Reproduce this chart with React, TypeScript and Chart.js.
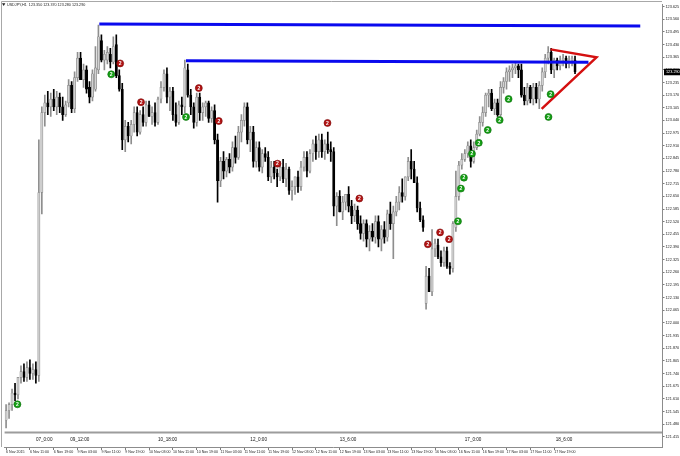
import React, { useEffect, useRef } from 'react';
import { Chart, registerables } from 'chart.js';

Chart.register(...registerables);

const FONT = "'Liberation Sans', Arial, sans-serif";

// ---- OHLC data (USDJPY, H1), bar index 0 = 6 Nov 2015 03:00 ----
const opens = [
  121.50, 121.55, 121.58, 121.64, 121.63, 121.72, 121.75, 121.72, 121.77, 121.74,
  121.76, 121.73, 122.67, 123.08, 123.13, 123.11, 123.15, 123.11, 123.16, 123.11,
  123.07, 123.13, 123.22, 123.10, 123.26, 123.36, 123.25, 123.30, 123.21, 123.16,
  123.20, 123.30, 123.45, 123.35, 123.35, 123.38, 123.34, 123.43, 123.27, 123.20,
  122.94, 123.01, 122.96, 123.02, 123.08, 122.98, 123.07, 123.03, 123.12, 123.06,
  123.08, 123.03, 123.15, 123.21, 123.28, 123.16, 123.19, 123.07, 123.03, 123.12,
  123.11, 123.30, 123.17, 123.11, 123.03, 123.16, 123.08, 123.11, 123.13, 123.05,
  123.09, 122.94, 122.73, 122.83, 122.78, 122.84, 122.80, 122.90, 122.85, 122.98,
  123.04, 123.11, 122.94, 122.98, 122.83, 122.90, 122.80, 122.87, 122.85, 122.75,
  122.80, 122.77, 122.75, 122.80, 122.74, 122.79, 122.68, 122.70, 122.75, 122.70,
  122.80, 122.85, 122.78, 122.87, 122.92, 122.88, 122.94, 122.88, 122.92, 122.89,
  122.88, 122.60, 122.65, 122.57, 122.62, 122.66, 122.60, 122.55, 122.58, 122.51,
  122.46, 122.51, 122.43, 122.47, 122.44, 122.52, 122.43, 122.48, 122.44, 122.56,
  122.51, 122.57, 122.62, 122.67, 122.65, 122.75, 122.83, 122.79, 122.72, 122.59,
  122.53, 122.10, 122.24, 122.16, 122.38, 122.40, 122.34, 122.31, 122.37, 122.29,
  122.28, 122.49, 122.65, 122.81, 122.84, 122.87, 122.91, 122.83, 122.90, 122.97,
  123.03, 123.08, 123.17, 123.18, 123.10, 123.13, 123.07, 123.21, 123.24, 123.29,
  123.30, 123.31, 123.32, 123.30, 123.17, 123.14, 123.21, 123.15, 123.21, 123.15,
  123.22, 123.29, 123.36, 123.39, 123.30, 123.35, 123.32, 123.35, 123.36, 123.33,
  123.35, 123.35,
];
const highs = [
  121.58, 121.59, 121.66, 121.69, 121.72, 121.78, 121.79, 121.80, 121.81, 121.79,
  121.80, 122.94, 123.11, 123.17, 123.19, 123.18, 123.20, 123.19, 123.18, 123.16,
  123.14, 123.25, 123.24, 123.29, 123.39, 123.39, 123.33, 123.32, 123.24, 123.30,
  123.42, 123.53, 123.48, 123.40, 123.42, 123.41, 123.47, 123.48, 123.30, 123.23,
  123.04, 123.03, 123.04, 123.11, 123.11, 123.09, 123.11, 123.14, 123.14, 123.11,
  123.13, 123.16, 123.24, 123.30, 123.31, 123.21, 123.21, 123.13, 123.14, 123.16,
  123.35, 123.33, 123.20, 123.13, 123.18, 123.18, 123.13, 123.14, 123.14, 123.11,
  123.12, 122.97, 122.85, 122.88, 122.85, 122.87, 122.93, 122.96, 123.01, 123.07,
  123.13, 123.13, 123.01, 123.01, 122.93, 122.93, 122.89, 122.90, 122.88, 122.83,
  122.83, 122.79, 122.83, 122.84, 122.82, 122.80, 122.73, 122.75, 122.78, 122.83,
  122.88, 122.88, 122.89, 122.94, 122.96, 122.97, 122.97, 122.94, 122.98, 122.93,
  122.90, 122.67, 122.68, 122.65, 122.66, 122.70, 122.63, 122.61, 122.60, 122.55,
  122.53, 122.53, 122.50, 122.51, 122.55, 122.55, 122.50, 122.52, 122.58, 122.62,
  122.60, 122.65, 122.70, 122.74, 122.75, 122.85, 122.89, 122.83, 122.75, 122.62,
  122.55, 122.29, 122.28, 122.48, 122.43, 122.43, 122.37, 122.39, 122.39, 122.31,
  122.52, 122.78, 122.83, 122.87, 122.89, 122.93, 122.94, 122.93, 122.99, 123.06,
  123.11, 123.18, 123.20, 123.20, 123.15, 123.15, 123.24, 123.26, 123.31, 123.32,
  123.33, 123.34, 123.33, 123.33, 123.21, 123.23, 123.22, 123.23, 123.23, 123.24,
  123.31, 123.38, 123.42, 123.41, 123.36, 123.36, 123.37, 123.38, 123.37, 123.37,
  123.37, 123.37,
];
const lows = [
  121.46, 121.51, 121.55, 121.60, 121.61, 121.69, 121.70, 121.70, 121.71, 121.71,
  121.69, 121.70, 122.56, 123.01, 123.07, 123.06, 123.09, 123.07, 123.08, 123.04,
  123.06, 123.11, 123.08, 123.08, 123.24, 123.25, 123.21, 123.18, 123.13, 123.14,
  123.19, 123.28, 123.34, 123.30, 123.33, 123.31, 123.33, 123.26, 123.19, 122.89,
  122.88, 122.93, 122.92, 122.98, 122.96, 122.97, 123.01, 123.01, 123.06, 123.02,
  123.01, 123.02, 123.13, 123.19, 123.13, 123.09, 123.04, 123.01, 123.02, 123.07,
  123.08, 123.16, 123.07, 123.00, 123.01, 123.04, 123.04, 123.06, 123.03, 123.03,
  122.92, 122.62, 122.70, 122.74, 122.75, 122.77, 122.78, 122.82, 122.84, 122.93,
  123.01, 122.92, 122.88, 122.80, 122.80, 122.78, 122.77, 122.83, 122.73, 122.72,
  122.74, 122.70, 122.73, 122.72, 122.70, 122.66, 122.63, 122.66, 122.67, 122.68,
  122.78, 122.75, 122.77, 122.83, 122.84, 122.85, 122.85, 122.84, 122.87, 122.83,
  122.55, 122.50, 122.57, 122.53, 122.58, 122.57, 122.51, 122.52, 122.48, 122.43,
  122.42, 122.39, 122.37, 122.42, 122.41, 122.39, 122.37, 122.41, 122.42, 122.48,
  122.33, 122.55, 122.58, 122.62, 122.63, 122.73, 122.74, 122.72, 122.57, 122.52,
  122.47, 122.07, 122.16, 122.14, 122.34, 122.33, 122.29, 122.29, 122.28, 122.25,
  122.26, 122.47, 122.63, 122.79, 122.83, 122.85, 122.80, 122.82, 122.89, 122.96,
  123.01, 123.06, 123.11, 123.09, 123.07, 123.06, 123.06, 123.18, 123.20, 123.24,
  123.26, 123.28, 123.26, 123.16, 123.12, 123.12, 123.13, 123.12, 123.13, 123.10,
  123.19, 123.26, 123.33, 123.28, 123.26, 123.30, 123.30, 123.32, 123.31, 123.31,
  123.32, 123.28,
];
const closes = [
  121.55, 121.58, 121.64, 121.63, 121.72, 121.75, 121.72, 121.77, 121.74, 121.76,
  121.73, 122.67, 123.08, 123.13, 123.11, 123.15, 123.11, 123.16, 123.11, 123.07,
  123.12, 123.22, 123.10, 123.26, 123.36, 123.25, 123.30, 123.20, 123.16, 123.28,
  123.31, 123.47, 123.35, 123.38, 123.39, 123.34, 123.42, 123.27, 123.20, 122.94,
  123.01, 122.96, 123.02, 123.08, 122.98, 123.07, 123.03, 123.12, 123.06, 123.08,
  123.03, 123.15, 123.21, 123.28, 123.16, 123.19, 123.07, 123.03, 123.12, 123.11,
  123.31, 123.17, 123.11, 123.03, 123.16, 123.08, 123.11, 123.13, 123.05, 123.09,
  122.94, 122.73, 122.83, 122.78, 122.84, 122.80, 122.90, 122.85, 122.98, 123.04,
  123.11, 122.94, 122.98, 122.83, 122.90, 122.80, 122.87, 122.85, 122.75, 122.80,
  122.77, 122.75, 122.80, 122.74, 122.79, 122.68, 122.70, 122.75, 122.70, 122.80,
  122.85, 122.78, 122.87, 122.92, 122.88, 122.94, 122.88, 122.92, 122.89, 122.88,
  122.60, 122.65, 122.57, 122.62, 122.66, 122.60, 122.55, 122.58, 122.51, 122.46,
  122.51, 122.43, 122.47, 122.44, 122.52, 122.43, 122.48, 122.44, 122.56, 122.51,
  122.57, 122.62, 122.67, 122.65, 122.75, 122.83, 122.79, 122.72, 122.59, 122.53,
  122.49, 122.24, 122.16, 122.38, 122.41, 122.34, 122.31, 122.37, 122.29, 122.28,
  122.51, 122.65, 122.81, 122.84, 122.87, 122.91, 122.83, 122.90, 122.97, 123.03,
  123.08, 123.17, 123.18, 123.10, 123.13, 123.07, 123.21, 123.24, 123.29, 123.30,
  123.31, 123.32, 123.30, 123.17, 123.14, 123.21, 123.15, 123.21, 123.15, 123.22,
  123.29, 123.36, 123.39, 123.30, 123.35, 123.32, 123.35, 123.36, 123.33, 123.35,
  123.36, 123.29,
];

// ---- signal markers ("2") ----
const redX = [38.3, 45.3, 64.7, 71.4, 91.1, 107.9, 118.6, 141.6, 145.7, 148.7];
const redY = [123.333, 123.134, 123.206, 123.037, 122.818, 123.027, 122.639, 122.404, 122.465, 122.43];
const greenX = [3.8, 35.3, 60.4, 151.7, 152.7, 153.7, 156.4, 158.7, 161.7, 165.7, 168.7, 182.1, 182.8];
const greenY = [121.582, 123.277, 123.058, 122.522, 122.69, 122.746, 122.869, 122.925, 122.991, 123.042, 123.15, 123.058, 123.175];

// ---- drawn objects ----
const blueLine1 = [{ x: 31.3, y: 123.535 }, { x: 212.9, y: 123.525 }];
const blueLine2 = [{ x: 60.4, y: 123.347 }, { x: 195.5, y: 123.339 }];
const redTriangle = [{ x: 182.8, y: 123.405 }, { x: 198.2, y: 123.364 }, { x: 179.8, y: 123.099 }];

// ---- axis labels ----
const timeTickIdx = [0, 8, 16, 24, 32, 40, 48, 56, 64, 72, 80, 88, 96, 104, 112, 120, 128, 136, 144, 152, 160, 168, 176, 184];
const timeLabels = [
  '6 Nov 2015', '6 Nov 11:00', '6 Nov 19:00', '9 Nov 03:00', '9 Nov 11:00', '9 Nov 19:00',
  '10 Nov 03:00', '10 Nov 11:00', '10 Nov 19:00', '11 Nov 03:00', '11 Nov 11:00', '11 Nov 19:00',
  '12 Nov 03:00', '12 Nov 11:00', '12 Nov 19:00', '13 Nov 03:00', '13 Nov 11:00', '13 Nov 19:00',
  '16 Nov 03:00', '16 Nov 11:00', '16 Nov 19:00', '17 Nov 03:00', '17 Nov 11:00', '17 Nov 19:00',
];
const priceTicks = [
  '123.625', '123.560', '123.495', '123.430', '123.365', '123.300', '123.235', '123.170', '123.105',
  '123.040', '122.975', '122.910', '122.845', '122.780', '122.715', '122.650', '122.585', '122.520',
  '122.455', '122.390', '122.325', '122.260', '122.195', '122.130', '122.065', '122.000', '121.935',
  '121.870', '121.805', '121.740', '121.675', '121.610', '121.545', '121.480', '121.415',
];
const sessionLabels = ['07_0:00', '09_12:00', '10_18:00', '12_0:00', '13_6:00', '17_0:00', '18_6:00'];
const sessionIdx = [10, 21.5, 51, 82, 112, 154, 184.5];

const overlayPlugin = {
  id: 'mtOverlay',
  beforeDraw(chart: any) {
    const { ctx, width, height } = chart;
    ctx.save();
    ctx.fillStyle = '#ffffff';
    ctx.fillRect(0, 0, width, height);
    ctx.restore();
  },
  afterDatasetsDraw(chart: any) {
    const { ctx } = chart;
    ctx.save();
    ctx.fillStyle = '#ffffff';
    ctx.font = `bold 5px ${FONT}`;
    ctx.textAlign = 'center';
    ctx.textBaseline = 'middle';
    [0, 1].forEach((di) => {
      const meta = chart.getDatasetMeta(di);
      meta.data.forEach((pt: any) => ctx.fillText('2', pt.x, pt.y + 0.3));
    });
    ctx.restore();
  },
  afterDraw(chart: any) {
    const { ctx, chartArea: a, scales } = chart;
    const xs = scales.x;
    const ys = scales.y;
    ctx.save();
    // indicator sub-window strip
    const subTop = a.bottom - 14;
    ctx.fillStyle = '#ffffff';
    ctx.fillRect(a.left, subTop, a.right - a.left, a.bottom - subTop - 0.5);
    ctx.fillStyle = '#9c9c9c';
    ctx.fillRect(a.left, subTop - 1.5, a.right - a.left, 2);
    ctx.fillStyle = '#111';
    ctx.font = `4.6px ${FONT}`;
    ctx.textAlign = 'left';
    ctx.textBaseline = 'middle';
    sessionLabels.forEach((s, i) => ctx.fillText(s, xs.getPixelForValue(sessionIdx[i]), subTop + 7));
    // window frame
    ctx.strokeStyle = '#a8a8a8';
    ctx.lineWidth = 1;
    ctx.beginPath();
    ctx.moveTo(1.5, a.bottom);
    ctx.lineTo(1.5, 1.5);
    ctx.lineTo(a.right, 1.5);
    ctx.stroke();
    // header
    const n = closes.length - 1;
    ctx.fillStyle = '#222';
    ctx.beginPath();
    ctx.moveTo(2, 3.3);
    ctx.lineTo(5.4, 3.3);
    ctx.lineTo(3.7, 6);
    ctx.closePath();
    ctx.fill();
    ctx.font = `3.7px ${FONT}`;
    ctx.textBaseline = 'middle';
    ctx.fillText(
      `USDJPY,H1  ${opens[n].toFixed(3)} ${highs[n].toFixed(3)} ${lows[n].toFixed(3)} ${closes[n].toFixed(3)}`,
      7, 4.8
    );
    // current price box
    const py = ys.getPixelForValue(closes[n]);
    ctx.fillStyle = '#000';
    ctx.fillRect(a.right + 2, py - 3, 680 - a.right - 2, 6.5);
    ctx.fillStyle = '#fff';
    ctx.font = `3.8px ${FONT}`;
    ctx.fillText(closes[n].toFixed(3), a.right + 4, py + 0.3);
    ctx.restore();
  },
};

export default function App() {
  const ref = useRef<HTMLCanvasElement>(null);

  useEffect(() => {
    document.body.style.margin = '0';
    const canvas = ref.current;
    if (!canvas) return;
    const idx = opens.map((_, i) => i);
    const bull = idx.map((i) => closes[i] >= opens[i]);

    const chart = new Chart(canvas, {
      type: 'bar',
      data: {
        datasets: [
          {
            type: 'scatter',
            label: 'up',
            data: greenX.map((x, i) => ({ x, y: greenY[i] })),
            backgroundColor: '#15a015',
            borderColor: '#0b6b0b',
            borderWidth: 0.6,
            pointRadius: 3.5,
            order: 0,
          },
          {
            type: 'scatter',
            label: 'down',
            data: redX.map((x, i) => ({ x, y: redY[i] })),
            backgroundColor: '#b21414',
            borderColor: '#7a0a0a',
            borderWidth: 0.6,
            pointRadius: 3.5,
            order: 0,
          },
          {
            type: 'line',
            label: 'res1',
            data: blueLine1,
            borderColor: '#0a0aee',
            borderWidth: 3,
            pointRadius: 0,
            order: 1,
          },
          {
            type: 'line',
            label: 'res2',
            data: blueLine2,
            borderColor: '#0a0aee',
            borderWidth: 3,
            pointRadius: 0,
            order: 1,
          },
          {
            type: 'line',
            label: 'triangle',
            data: redTriangle,
            borderColor: '#d41010',
            borderWidth: 2.5,
            pointRadius: 0,
            order: 1,
          },
          {
            type: 'bar',
            label: 'body',
            data: idx.map((i) => ({ x: i, y: [opens[i], closes[i]] })),
            backgroundColor: idx.map((i) => (bull[i] ? '#d2d2d2' : '#000000')),
            borderColor: idx.map((i) => (bull[i] ? '#8a8a8a' : '#000000')),
            borderWidth: 0.7,
            borderSkipped: false,
            barThickness: 2.3,
            minBarLength: 1,
            grouped: false,
            order: 2,
          } as any,
          {
            type: 'bar',
            label: 'wick',
            data: idx.map((i) => ({ x: i, y: [lows[i], highs[i]] })),
            backgroundColor: idx.map((i) => (bull[i] ? '#8e8e8e' : '#000000')),
            barThickness: 1,
            grouped: false,
            order: 3,
          } as any,
        ],
      },
      options: {
        animation: false,
        responsive: false,
        devicePixelRatio: 1,
        layout: { padding: { left: 2, top: 2, right: 0, bottom: 0 } },
        plugins: { legend: { display: false }, tooltip: { enabled: false } },
        scales: {
          x: {
            type: 'linear',
            position: 'bottom',
            offset: false,
            min: -0.5,
            max: 220.2,
            grid: { display: true, offset: false, drawOnChartArea: false, drawTicks: true, tickLength: 3, color: '#7c7c7c' },
            border: { display: true, color: '#8c8c8c' },
            afterBuildTicks: (s: any) => {
              s.ticks = timeTickIdx.map((v) => ({ value: v }));
            },
            afterFit: (s: any) => {
              s.height = 9;
              s.paddingLeft = 0;
              s.paddingRight = 0;
            },
            ticks: {
              autoSkip: false,
              maxRotation: 0,
              minRotation: 0,
              align: 'start',
              padding: 0,
              color: '#222',
              font: { size: 3.6, family: FONT },
              callback: (_v: any, i: number) => timeLabels[i] ?? '',
            },
          },
          y: {
            type: 'linear',
            position: 'right',
            min: 121.3626,
            max: 123.635,
            grid: { display: true, drawOnChartArea: false, drawTicks: true, tickLength: 2.5, color: '#7c7c7c' },
            border: { display: true, color: '#8c8c8c' },
            afterBuildTicks: (s: any) => {
              s.ticks = priceTicks.map((v) => ({ value: parseFloat(v) }));
            },
            afterFit: (s: any) => {
              s.width = 18;
              s.paddingTop = 0;
              s.paddingBottom = 0;
            },
            ticks: {
              padding: 1,
              crossAlign: 'near',
              color: '#222',
              font: { size: 3.8, family: FONT },
              callback: (_v: any, i: number) => priceTicks[i] ?? '',
            },
          },
        },
      },
      plugins: [overlayPlugin],
    } as any);

    return () => chart.destroy();
  }, []);

  return (
    <div style={{ position: 'fixed', left: 0, top: 0, width: 680, height: 456 }}>
      <canvas ref={ref} width={680} height={456} style={{ display: 'block', width: 680, height: 456 }} />
    </div>
  );
}
